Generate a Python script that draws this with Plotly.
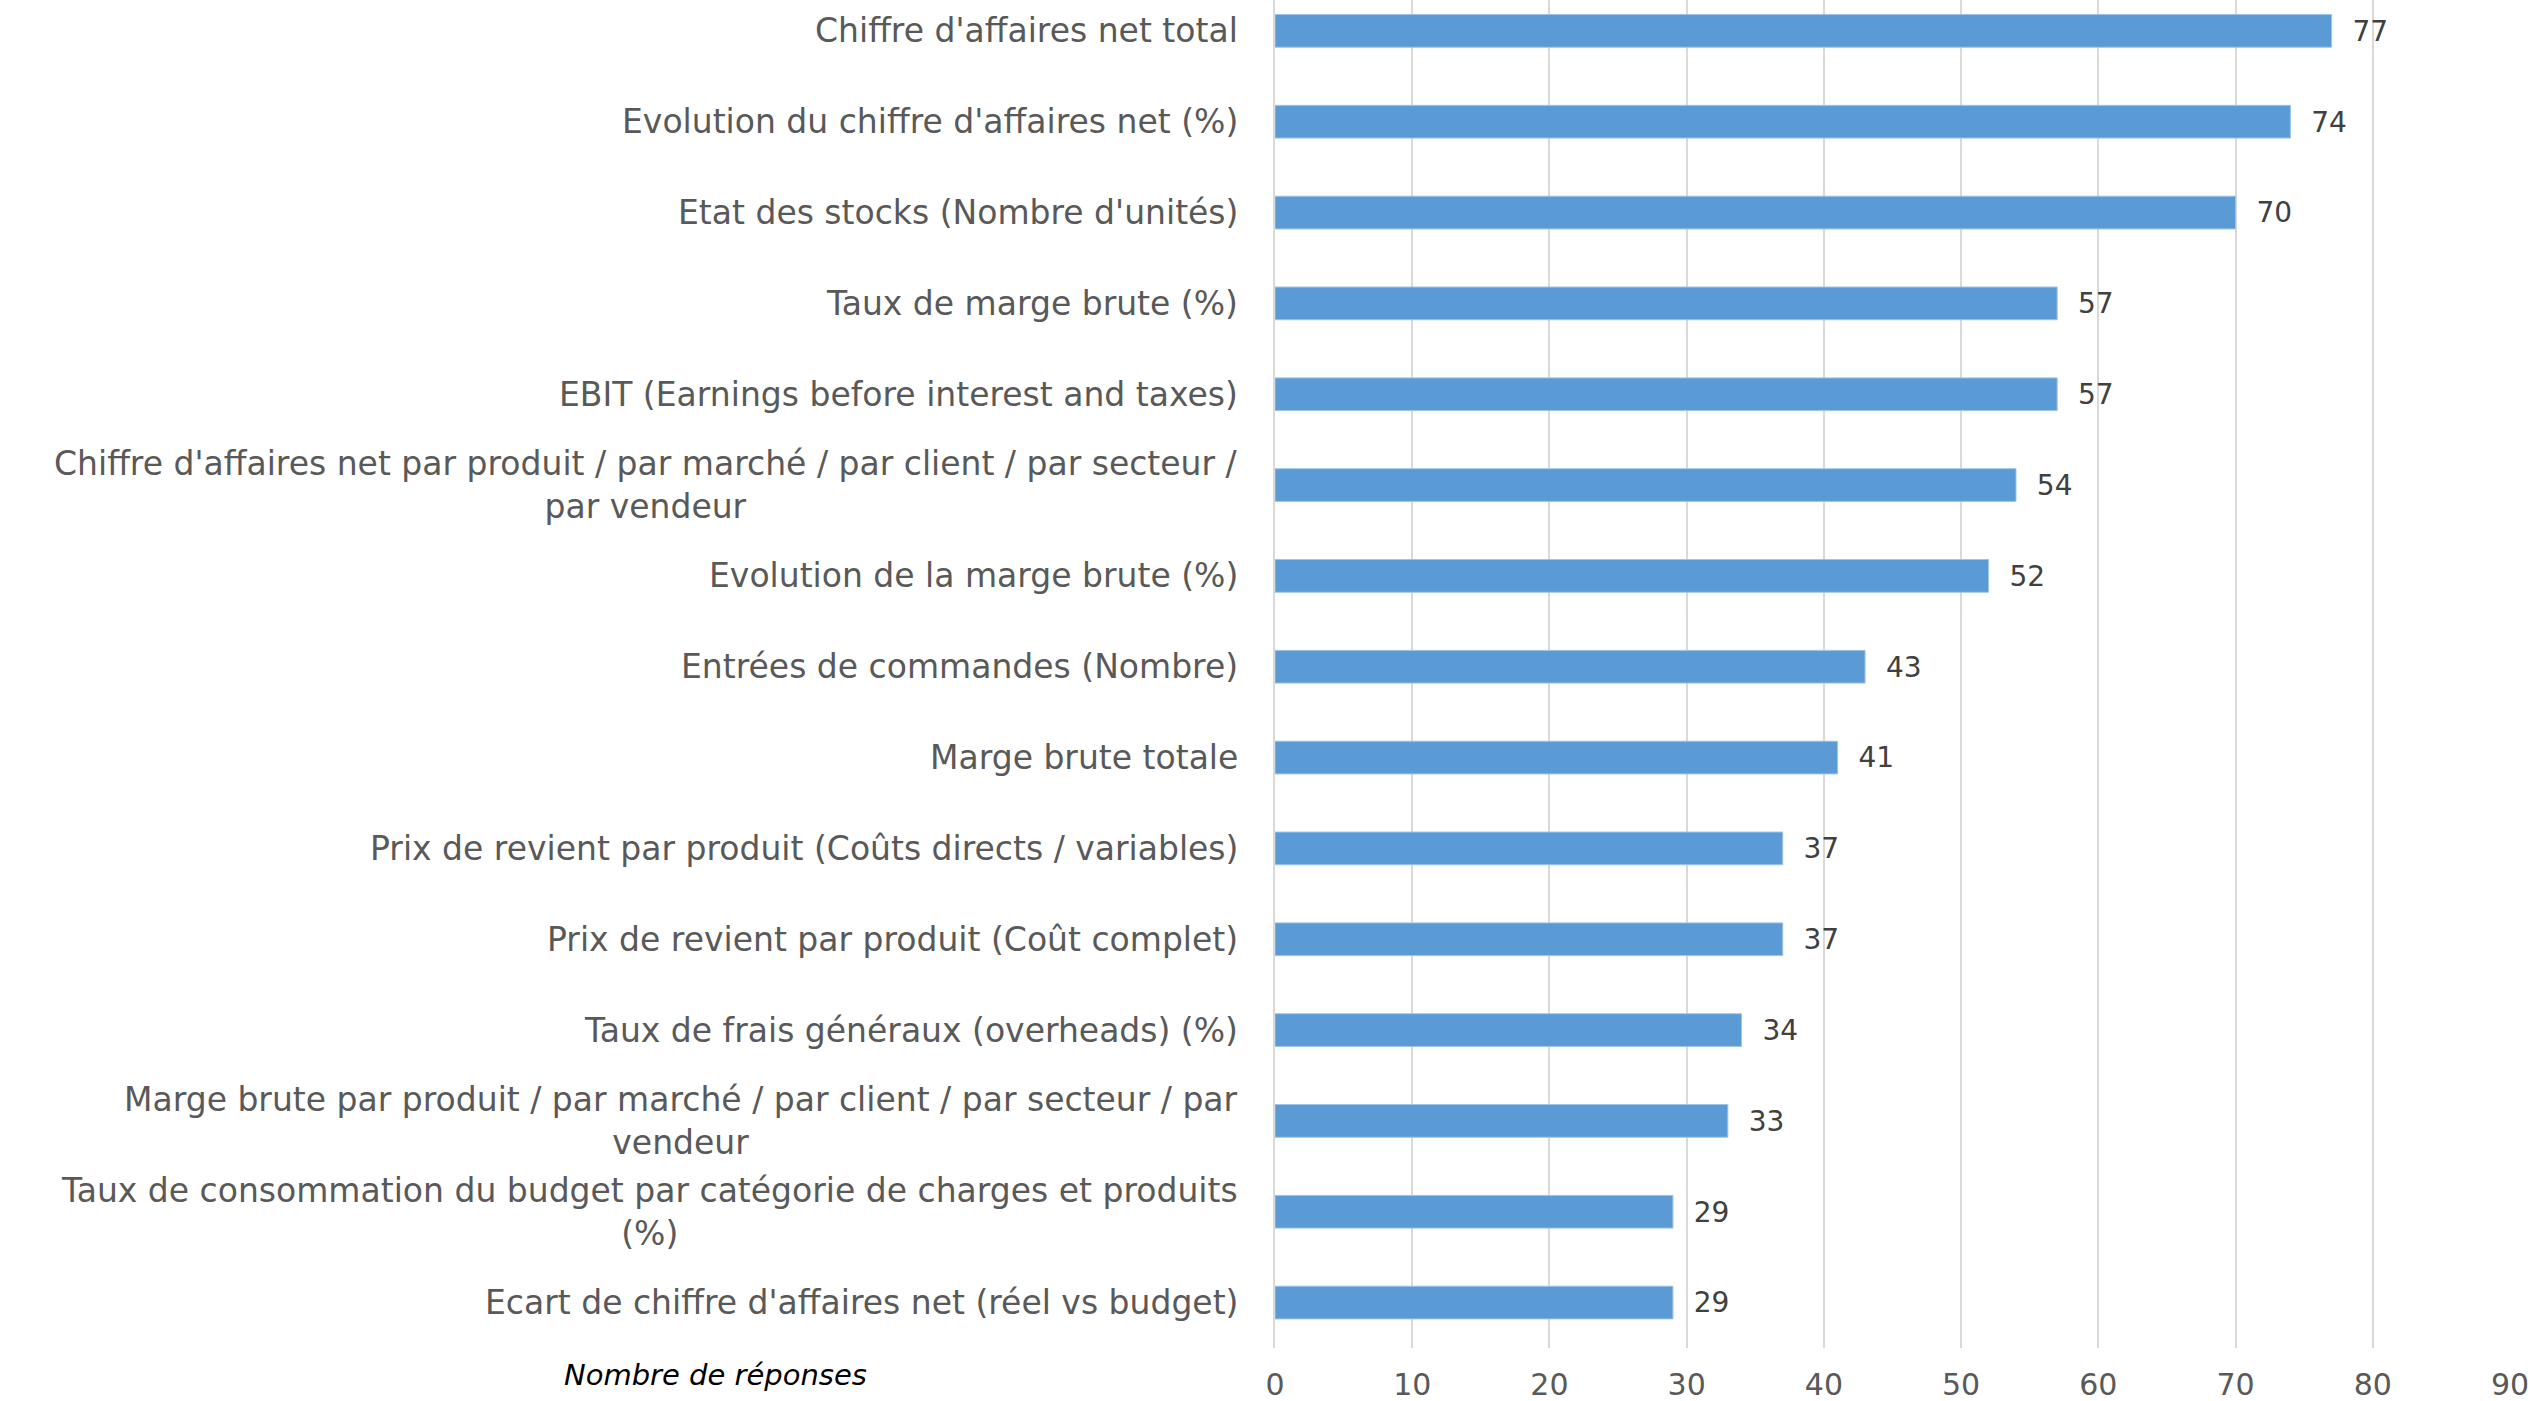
import plotly.graph_objects as go

categories = [
    "Chiffre d'affaires net total",
    "Evolution du chiffre d'affaires net (%)",
    "Etat des stocks (Nombre d'unités)",
    "Taux de marge brute (%)",
    "EBIT (Earnings before interest and taxes)",
    "Chiffre d'affaires net par produit / par marché / par client / par secteur /<br>par vendeur",
    "Evolution de la marge brute (%)",
    "Entrées de commandes (Nombre)",
    "Marge brute totale",
    "Prix de revient par produit (Coûts directs / variables)",
    "Prix de revient par produit (Coût complet)",
    "Taux de frais généraux (overheads) (%)",
    "Marge brute par produit / par marché / par client / par secteur / par<br>vendeur",
    "Taux de consommation du budget par catégorie de charges et produits<br>(%)",
    "Ecart de chiffre d'affaires net (réel vs budget)",
]
values = [77, 74, 70, 57, 57, 54, 52, 43, 41, 37, 37, 34, 33, 29, 29]
x_ticks = [0, 10, 20, 30, 40, 50, 60, 70, 80, 90]
x_title = "Nombre de réponses"

# bottom-to-top order for the category axis
cats_bt = categories[::-1]
vals_bt = values[::-1]

FONT = "DejaVu Sans"
GREY = "#595959"

fig = go.Figure()
fig.add_trace(go.Bar(
    x=vals_bt,
    y=cats_bt,
    orientation="h",
    marker=dict(color="#5B9BD5", line=dict(color="#9DC3E6", width=1)),
    text=[f"\u00a0\u00a0{v}" for v in vals_bt],
    textposition="outside",
    textfont=dict(family=FONT, size=30, color="#404040"),
    cliponaxis=False,
    hoverinfo="skip",
))

for c in cats_bt:
    fig.add_annotation(
        x=0, xref="paper", y=c, yref="y",
        text=c, showarrow=False, xanchor="right", yanchor="middle",
        align="center", xshift=-35,
        font=dict(family=FONT, size=33, color=GREY),
    )

fig.add_annotation(
    x=-0.453, xref="paper", y=-0.02, yref="paper",
    text=f"<i>{x_title}</i>", showarrow=False, xanchor="center", yanchor="middle",
    font=dict(family=FONT, size=29, color="#000000"),
)

fig.update_layout(
    width=2530, height=1401,
    margin=dict(l=1275, r=20, t=0, b=53),
    paper_bgcolor="white", plot_bgcolor="white",
    bargap=0.64,
    showlegend=False,
    xaxis=dict(
        range=[0, 90], tickvals=x_ticks, showgrid=True, gridcolor="#D9D9D9",
        gridwidth=1.5, zeroline=False, showline=False, ticks="",
        tickfont=dict(family=FONT, size=30, color=GREY),
        ticklabelstandoff=16,
    ),
    yaxis=dict(
        type="category", categoryorder="array", categoryarray=cats_bt,
        range=[-0.5, 14.34], showticklabels=False, showgrid=False,
        zeroline=False, showline=True, linecolor="#D9D9D9", linewidth=1.5,
        ticks="",
    ),
)

fig.write_html("out.html", config={"displayModeBar": False},
               post_script="document.body.style.margin='0';")
